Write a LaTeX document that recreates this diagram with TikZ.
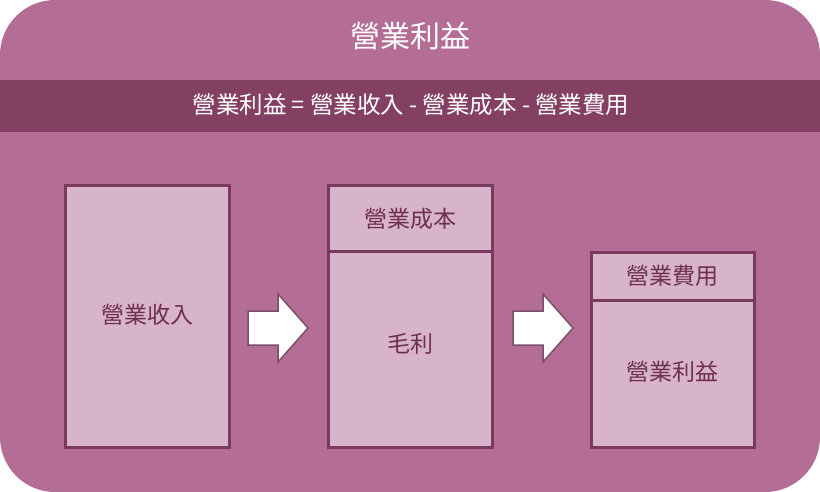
\documentclass[tikz,border=0pt]{standalone}
\usepackage{fontspec}
\setmainfont{Noto Sans CJK JP}
\definecolor{bgpurple}{HTML}{B46E96}
\definecolor{bandpurple}{HTML}{844062}
\definecolor{boxfill}{HTML}{D8B4CA}
\definecolor{boxline}{HTML}{7A3A5E}
\definecolor{textpurple}{HTML}{6E2F52}
\tikzset{
  part/.style={draw=boxline, line width=3pt, fill=boxfill},
  partlabel/.style={text=textpurple, font=\fontsize{23}{26}\selectfont},
  stepArrow/.style={fill=white, draw=boxline!70!gray, line width=1.5pt, line join=miter}
}
\begin{document}
\begin{tikzpicture}[x=1pt,y=-1pt]
				\useasboundingbox (0,0) rectangle (820,492);
				\fill[bgpurple, rounded corners=55pt] (0,0) rectangle (820,492);
				\fill[bandpurple] (0,80) rectangle (820,132);
				
				\node[text=white, font=\fontsize{30}{32}\selectfont] (title) at (410,36) {營業利益};
				\node[text=white, font=\fontsize{23.5}{26}\selectfont] (formula) at (411,105) {營業利益 = 營業收入 - 營業成本 - 營業費用};
				
				% revenue
				\draw[part] (65,186) rectangle (229,447);
				\node[partlabel] (rev) at (147,315) {營業收入};
				
				% cost and gross profit
				\draw[part] (328,186) rectangle (492,251);
				\draw[part] (328,251) rectangle (492,447);
				\node[partlabel] (cost) at (410,219) {營業成本};
				\node[partlabel] (gross) at (410,344) {毛利};
				
				% expense and operating income
				\draw[part] (591,252) rectangle (754,300);
				\draw[part] (591,300) rectangle (754,447);
				\node[partlabel] (exp) at (672,276) {營業費用};
				\node[partlabel] (inc) at (672,372) {營業利益};
				
				\foreach \x in {248,513}{
					\draw[stepArrow] (\x,311) -- ++(30,0) -- ++(0,-17) -- ++(30,34) -- ++(-30,34) -- ++(0,-17) -- ++(-30,0) -- cycle;}
			\end{tikzpicture}
\end{document}
